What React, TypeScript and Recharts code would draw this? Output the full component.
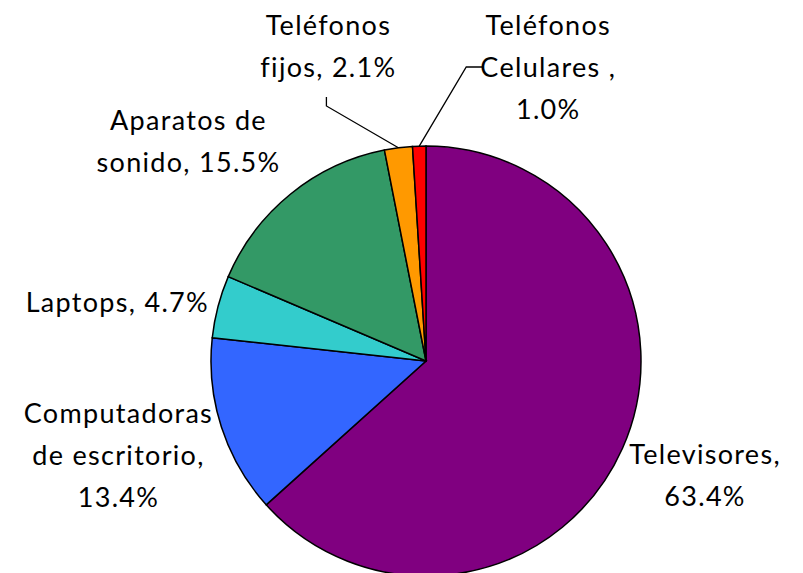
import React from "react";
import { PieChart, Pie, Cell } from "recharts";

const categories = [
  "Televisores",
  "Computadoras de escritorio",
  "Laptops",
  "Aparatos de sonido",
  "Teléfonos fijos",
  "Teléfonos Celulares ",
];
const values = [63.4, 13.4, 4.7, 15.5, 2.1, 1.0];
const labelLines = [
  ["Televisores,", "63.4%"],
  ["Computadoras", "de escritorio,", "13.4%"],
  ["Laptops, 4.7%"],
  ["Aparatos de", "sonido, 15.5%"],
  ["Teléfonos", "fijos, 2.1%"],
  ["Teléfonos", "Celulares ,", "1.0%"],
];
const colors = ["#800080", "#3366FF", "#33CCCC", "#339966", "#FF9900", "#FF0000"];

const data = categories.map((name, i) => ({ name, value: values[i] }));

// label layout: radius from center, nudge, and optional leader line
const layout = [
  { r: 300, dx: 5, dy: -9, leader: null as null | "left" | "right" },
  { r: 320, dx: -3, dy: -5, leader: null },
  { r: 318, dx: -1, dy: 21, leader: null },
  { r: 320, dx: -36, dy: 28, leader: null },
  { r: 316, dx: 0, dy: 0, leader: "left" },
  { r: 300, dx: 0, dy: 0, leader: "right" },
];

const RAD = Math.PI / 180;
const FONT = "Lato, sans-serif";
const FS = 27;
const LH = 42;

const renderLabel = (props: any) => {
  const { cx, cy, midAngle, outerRadius, index } = props;
  const L = layout[index];
  const lines = labelLines[index];
  const sx = cx + outerRadius * Math.cos(-midAngle * RAD);
  const sy = cy + outerRadius * Math.sin(-midAngle * RAD);
  let x: number;
  let y: number;
  let path: string | null = null;
  if (L.leader === "left") {
    x = sx - 70;
    y = 45;
    path = `M${x - 2},${y + 52} L${x - 2},${y + 61} L${sx},${sy}`;
  } else if (L.leader === "right") {
    x = sx + 129;
    y = 66;
    path = `M${x - 65},${y + 1} L${x - 82},${y + 1} L${sx},${sy}`;
  } else {
    x = cx + L.r * Math.cos(-midAngle * RAD) + L.dx;
    y = cy + L.r * Math.sin(-midAngle * RAD) + L.dy;
  }
  const top = y - ((lines.length - 1) * LH) / 2;
  return (
    <g key={`lbl-${index}`}>
      {path && <path d={path} stroke="#000" strokeWidth={1.3} fill="none" />}
      <text
        x={x}
        y={top}
        textAnchor="middle"
        fontFamily={FONT}
        fontSize={FS}
        fill="#000"
        letterSpacing={1.3}
      >
        {lines.map((t, k) => (
          <tspan key={k} x={x} y={top + k * LH} dominantBaseline="central">
            {t}
          </tspan>
        ))}
      </text>
    </g>
  );
};

export default function App() {
  return (
    <div style={{ position: "absolute", left: 0, top: 0, width: 803, height: 573, background: "#fff" }}>
      <PieChart width={803} height={573} margin={{ top: 0, right: 0, bottom: 0, left: 0 }}>
        <Pie
          data={data}
          dataKey="value"
          nameKey="name"
          cx={426}
          cy={361}
          outerRadius={215}
          startAngle={90}
          endAngle={-270}
          stroke="#000"
          strokeWidth={1.5}
          label={renderLabel}
          labelLine={false}
          isAnimationActive={false}
        >
          {data.map((d, i) => (
            <Cell key={d.name} fill={colors[i]} />
          ))}
        </Pie>
      </PieChart>
    </div>
  );
}
